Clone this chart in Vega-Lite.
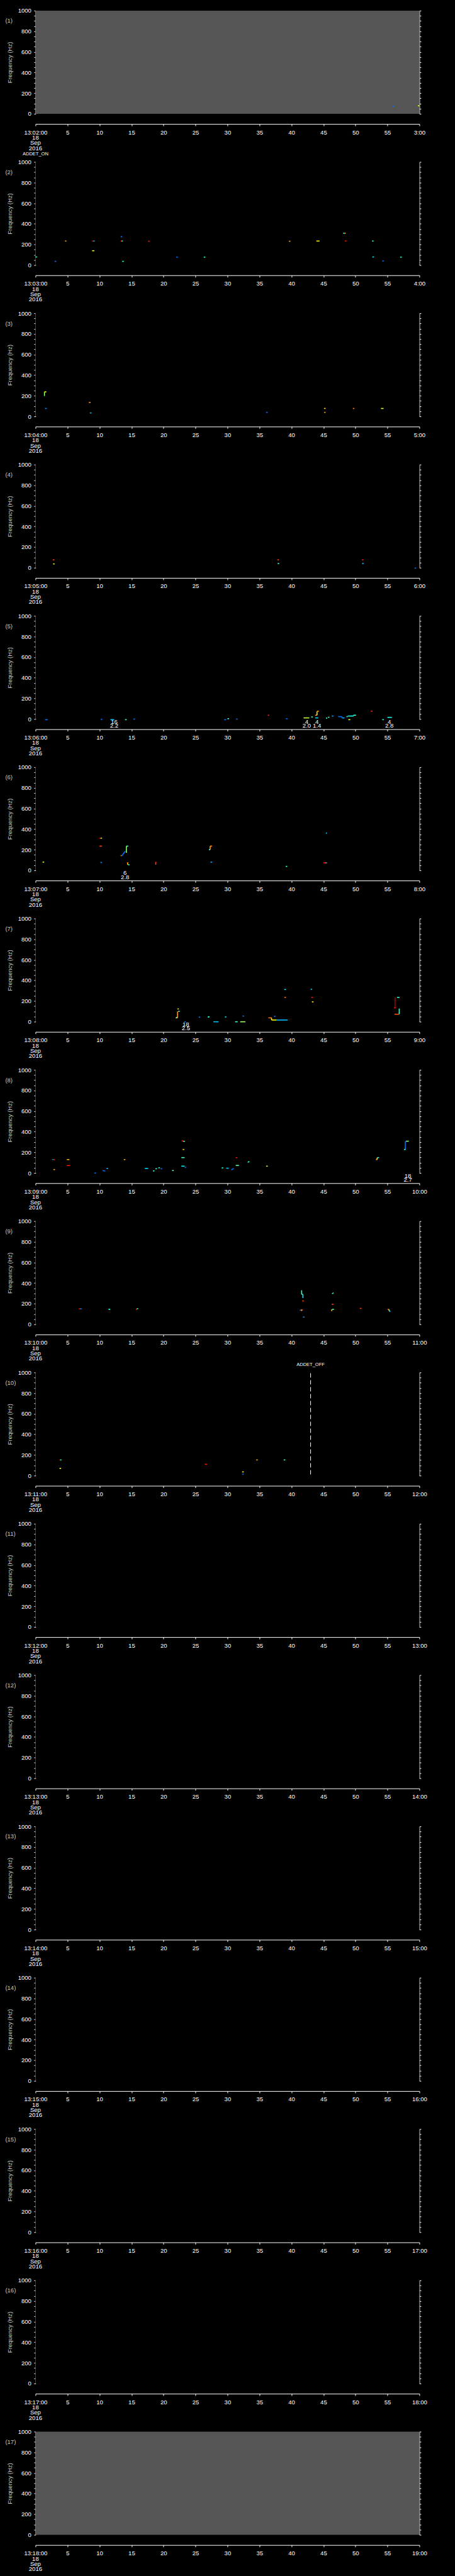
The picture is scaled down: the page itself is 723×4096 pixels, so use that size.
{
"$schema": "https://vega.github.io/schema/vega-lite/v6.json",
"background": "black",
"autosize": {"type": "none"},
"padding": {"left": 56.4, "top": 16.9, "right": 666.6, "bottom": 4079.1},
"bounds": "flush",
"spacing": 76.6,
"data": {"values": [
{"p":1,"k":"fr","t":120,"t2":180,"s":"(1)","st":"nodata"},
{"p":2,"k":"fr","t":180,"t2":240,"s":"(2)","st":"data"},
{"p":3,"k":"fr","t":240,"t2":300,"s":"(3)","st":"data"},
{"p":4,"k":"fr","t":300,"t2":360,"s":"(4)","st":"data"},
{"p":5,"k":"fr","t":360,"t2":420,"s":"(5)","st":"data"},
{"p":6,"k":"fr","t":420,"t2":480,"s":"(6)","st":"data"},
{"p":7,"k":"fr","t":480,"t2":540,"s":"(7)","st":"data"},
{"p":8,"k":"fr","t":540,"t2":600,"s":"(8)","st":"data"},
{"p":9,"k":"fr","t":600,"t2":660,"s":"(9)","st":"data"},
{"p":10,"k":"fr","t":660,"t2":720,"s":"(10)","st":"data"},
{"p":11,"k":"fr","t":720,"t2":780,"s":"(11)","st":"data"},
{"p":12,"k":"fr","t":780,"t2":840,"s":"(12)","st":"data"},
{"p":13,"k":"fr","t":840,"t2":900,"s":"(13)","st":"data"},
{"p":14,"k":"fr","t":900,"t2":960,"s":"(14)","st":"data"},
{"p":15,"k":"fr","t":960,"t2":1020,"s":"(15)","st":"data"},
{"p":16,"k":"fr","t":1020,"t2":1080,"s":"(16)","st":"data"},
{"p":17,"k":"fr","t":1080,"t2":1140,"s":"(17)","st":"nodata"},

{"p":1,"k":"s","t":175.8,"t2":176.05,"f":74,"f2":74,"v":0.22},
{"p":1,"k":"s","t":179.75,"t2":180,"f":78,"f2":78,"v":0.62},

{"p":2,"k":"s","t":180,"t2":180.25,"f":79,"f2":79,"v":0.4},
{"p":2,"k":"s","t":183,"t2":183.25,"f":36,"f2":36,"v":0.22},
{"p":2,"k":"s","t":184.6,"t2":184.85,"f":233,"f2":233,"v":0.72},
{"p":2,"k":"s","t":188.85,"t2":189.05,"f":233,"f2":233,"v":0.84},
{"p":2,"k":"s","t":189.05,"t2":189.25,"f":233,"f2":233,"v":0.3},
{"p":2,"k":"s","t":188.85,"t2":189.2,"f":139,"f2":139,"v":0.6},
{"p":2,"k":"s","t":193.3,"t2":193.55,"f":274,"f2":278,"v":0.22},
{"p":2,"k":"s","t":193.3,"t2":193.45,"f":233,"f2":233,"v":0.84},
{"p":2,"k":"s","t":193.45,"t2":193.65,"f":233,"f2":233,"v":0.4},
{"p":2,"k":"s","t":193.55,"t2":193.8,"f":36,"f2":36,"v":0.4},
{"p":2,"k":"s","t":197.6,"t2":197.85,"f":231,"f2":231,"v":0.84},
{"p":2,"k":"s","t":202,"t2":202.25,"f":77,"f2":77,"v":0.22},
{"p":2,"k":"s","t":206.3,"t2":206.55,"f":77,"f2":77,"v":0.4},
{"p":2,"k":"s","t":219.6,"t2":219.85,"f":231,"f2":231,"v":0.72},
{"p":2,"k":"s","t":223.9,"t2":224.4,"f":233,"f2":233,"v":0.62},
{"p":2,"k":"s","t":228.1,"t2":228.3,"f":309,"f2":309,"v":0.4},
{"p":2,"k":"s","t":228.3,"t2":228.5,"f":309,"f2":309,"v":0.72},
{"p":2,"k":"s","t":228.35,"t2":228.6,"f":233,"f2":233,"v":0.84},
{"p":2,"k":"s","t":232.6,"t2":232.85,"f":233,"f2":233,"v":0.4},
{"p":2,"k":"s","t":232.65,"t2":232.9,"f":79,"f2":79,"v":0.35},
{"p":2,"k":"s","t":234.2,"t2":234.45,"f":40,"f2":40,"v":0.22},
{"p":2,"k":"s","t":237,"t2":237.25,"f":77,"f2":77,"v":0.4},

{"p":3,"k":"s","t":241.4,"t2":241.4,"f":198,"f2":238,"v":0.5},
{"p":3,"k":"s","t":241.4,"t2":241.7,"f":238,"f2":238,"v":0.62},
{"p":3,"k":"s","t":241.5,"t2":241.75,"f":77,"f2":77,"v":0.25},
{"p":3,"k":"s","t":248.35,"t2":248.6,"f":135,"f2":135,"v":0.7},
{"p":3,"k":"s","t":248.5,"t2":248.75,"f":34,"f2":34,"v":0.3},
{"p":3,"k":"s","t":276.05,"t2":276.3,"f":39,"f2":39,"v":0.22},
{"p":3,"k":"s","t":285.1,"t2":285.35,"f":77,"f2":77,"v":0.65},
{"p":3,"k":"s","t":285.1,"t2":285.35,"f":39,"f2":39,"v":0.72},
{"p":3,"k":"s","t":289.6,"t2":289.85,"f":77,"f2":77,"v":0.75},
{"p":3,"k":"s","t":294,"t2":294.4,"f":77,"f2":77,"v":0.55},

{"p":4,"k":"s","t":302.7,"t2":302.95,"f":76,"f2":76,"v":0.8},
{"p":4,"k":"s","t":302.75,"t2":303,"f":37,"f2":37,"v":0.55},
{"p":4,"k":"s","t":337.8,"t2":338.05,"f":76,"f2":76,"v":0.8},
{"p":4,"k":"s","t":337.85,"t2":338.1,"f":41,"f2":41,"v":0.38},
{"p":4,"k":"s","t":351,"t2":351.25,"f":76,"f2":76,"v":0.85},
{"p":4,"k":"s","t":351.05,"t2":351.3,"f":41,"f2":41,"v":0.3},
{"p":4,"k":"s","t":359.25,"t2":359.5,"f":-4,"f2":-4,"v":0.22},

{"p":5,"k":"s","t":361.5,"t2":361.9,"f":-6,"f2":-6,"v":0.22},
{"p":5,"k":"s","t":370.2,"t2":370.45,"f":-3,"f2":-3,"v":0.22},
{"p":5,"k":"s","t":371.7,"t2":372.3,"f":-6,"f2":-6,"v":0.3},
{"p":5,"k":"s","t":374,"t2":374.25,"f":-6,"f2":-6,"v":0.42},
{"p":5,"k":"s","t":375.3,"t2":375.55,"f":-1,"f2":-1,"v":0.22},
{"p":5,"k":"s","t":389.5,"t2":389.8,"f":-6,"f2":-6,"v":0.22},
{"p":5,"k":"s","t":390,"t2":390.25,"f":3,"f2":3,"v":0.4},
{"p":5,"k":"s","t":391.35,"t2":391.6,"f":-1,"f2":-1,"v":0.22},
{"p":5,"k":"s","t":396.3,"t2":396.55,"f":37,"f2":37,"v":0.84},
{"p":5,"k":"s","t":399.15,"t2":399.4,"f":3,"f2":3,"v":0.22},
{"p":5,"k":"s","t":401.9,"t2":402.8,"f":11,"f2":11,"v":0.55},
{"p":5,"k":"s","t":403.1,"t2":403.35,"f":20,"f2":20,"v":0.45},
{"p":5,"k":"s","t":403.7,"t2":404,"f":37,"f2":37,"v":0.72},
{"p":5,"k":"s","t":404,"t2":404,"f":37,"f2":73,"v":0.62},
{"p":5,"k":"s","t":404,"t2":404.3,"f":76,"f2":76,"v":0.7},
{"p":5,"k":"s","t":403.7,"t2":404.2,"f":11,"f2":11,"v":0.32},
{"p":5,"k":"s","t":405.4,"t2":405.6,"f":9,"f2":9,"v":0.4},
{"p":5,"k":"s","t":405.7,"t2":405.95,"f":17,"f2":17,"v":0.4},
{"p":5,"k":"s","t":406.3,"t2":406.6,"f":29,"f2":29,"v":0.25},
{"p":5,"k":"s","t":407.3,"t2":407.9,"f":23,"f2":23,"v":0.22},
{"p":5,"k":"s","t":407.9,"t2":407.9,"f":11,"f2":23,"v":0.22},
{"p":5,"k":"s","t":407.9,"t2":408.3,"f":11,"f2":11,"v":0.28},
{"p":5,"k":"s","t":408.6,"t2":408.8,"f":23,"f2":23,"v":0.4},
{"p":5,"k":"s","t":408.8,"t2":409.7,"f":29,"f2":29,"v":0.38},
{"p":5,"k":"s","t":409.7,"t2":409.7,"f":29,"f2":37,"v":0.38},
{"p":5,"k":"s","t":409.7,"t2":410.1,"f":37,"f2":37,"v":0.4},
{"p":5,"k":"s","t":408.9,"t2":409.2,"f":-6,"f2":-6,"v":0.6},
{"p":5,"k":"s","t":412.4,"t2":412.7,"f":76,"f2":76,"v":0.84},
{"p":5,"k":"s","t":414.2,"t2":414.45,"f":-6,"f2":-6,"v":0.4},
{"p":5,"k":"s","t":415,"t2":415.7,"f":16,"f2":16,"v":0.38},

{"p":6,"k":"s","t":421.1,"t2":421.35,"f":80,"f2":80,"v":0.62},
{"p":6,"k":"s","t":430,"t2":430.2,"f":312,"f2":312,"v":0.84},
{"p":6,"k":"s","t":430.2,"t2":430.4,"f":312,"f2":312,"v":0.62},
{"p":6,"k":"s","t":430,"t2":430.4,"f":235,"f2":235,"v":0.8},
{"p":6,"k":"s","t":430.15,"t2":430.4,"f":76,"f2":76,"v":0.25},
{"p":6,"k":"s","t":433.3,"t2":433.5,"f":143,"f2":143,"v":0.72},
{"p":6,"k":"s","t":433.5,"t2":434,"f":140,"f2":185,"v":0.22},
{"p":6,"k":"s","t":434.2,"t2":434.2,"f":170,"f2":235,"v":0.5},
{"p":6,"k":"s","t":434.2,"t2":434.5,"f":235,"f2":235,"v":0.42},
{"p":6,"k":"s","t":434.4,"t2":434.4,"f":54,"f2":73,"v":0.68},
{"p":6,"k":"s","t":434.3,"t2":434.5,"f":73,"f2":73,"v":0.72},
{"p":6,"k":"s","t":434.45,"t2":434.7,"f":54,"f2":54,"v":0.4},
{"p":6,"k":"s","t":438.8,"t2":438.8,"f":54,"f2":78,"v":0.8},
{"p":6,"k":"s","t":438.7,"t2":438.9,"f":78,"f2":78,"v":0.84},
{"p":6,"k":"s","t":447.3,"t2":447.3,"f":200,"f2":235,"v":0.7},
{"p":6,"k":"s","t":447.3,"t2":447.6,"f":235,"f2":235,"v":0.72},
{"p":6,"k":"s","t":447.1,"t2":447.3,"f":200,"f2":200,"v":0.4},
{"p":6,"k":"s","t":447.35,"t2":447.6,"f":80,"f2":80,"v":0.28},
{"p":6,"k":"s","t":459.1,"t2":459.35,"f":38,"f2":38,"v":0.4},
{"p":6,"k":"s","t":465.4,"t2":465.55,"f":356,"f2":365,"v":0.3},
{"p":6,"k":"s","t":465,"t2":465.3,"f":73,"f2":73,"v":0.84},
{"p":6,"k":"s","t":465.3,"t2":465.45,"f":73,"f2":73,"v":0.72},
{"p":6,"k":"s","t":465.45,"t2":465.6,"f":73,"f2":73,"v":0.25},

{"p":7,"k":"s","t":501.9,"t2":502.2,"f":37,"f2":37,"v":0.68},
{"p":7,"k":"s","t":502.2,"t2":502.2,"f":37,"f2":99,"v":0.72},
{"p":7,"k":"s","t":502.2,"t2":502.4,"f":123,"f2":123,"v":0.62},
{"p":7,"k":"s","t":502.3,"t2":502.55,"f":100,"f2":100,"v":0.4},
{"p":7,"k":"s","t":502,"t2":502.2,"f":41,"f2":41,"v":0.42},
{"p":7,"k":"s","t":503.25,"t2":503.5,"f":-1,"f2":-1,"v":0.22},
{"p":7,"k":"s","t":505.5,"t2":505.75,"f":44,"f2":44,"v":0.22},
{"p":7,"k":"s","t":507,"t2":507,"f":40,"f2":47,"v":0.4},
{"p":7,"k":"s","t":506.95,"t2":507.2,"f":47,"f2":47,"v":0.4},
{"p":7,"k":"s","t":507.8,"t2":508.6,"f":-1,"f2":-1,"v":0.3},
{"p":7,"k":"s","t":509.6,"t2":509.85,"f":46,"f2":46,"v":0.32},
{"p":7,"k":"s","t":511.2,"t2":511.6,"f":-1,"f2":-1,"v":0.42},
{"p":7,"k":"s","t":512,"t2":512.8,"f":-1,"f2":-1,"v":0.52},
{"p":7,"k":"s","t":512.35,"t2":512.6,"f":54,"f2":54,"v":0.22},
{"p":7,"k":"s","t":516.4,"t2":516.9,"f":37,"f2":37,"v":0.75},
{"p":7,"k":"s","t":516.9,"t2":516.9,"f":16,"f2":37,"v":0.62},
{"p":7,"k":"s","t":516.9,"t2":517.7,"f":16,"f2":16,"v":0.6},
{"p":7,"k":"s","t":517.3,"t2":517.5,"f":47,"f2":55,"v":0.22},
{"p":7,"k":"s","t":517.7,"t2":519.4,"f":16,"f2":16,"v":0.3},
{"p":7,"k":"s","t":518.9,"t2":519.15,"f":312,"f2":312,"v":0.35},
{"p":7,"k":"s","t":518.9,"t2":519.15,"f":235,"f2":235,"v":0.75},
{"p":7,"k":"s","t":523,"t2":523.25,"f":314,"f2":314,"v":0.3},
{"p":7,"k":"s","t":523.1,"t2":523.35,"f":235,"f2":235,"v":0.84},
{"p":7,"k":"s","t":523.2,"t2":523.45,"f":192,"f2":192,"v":0.62},
{"p":7,"k":"s","t":536.2,"t2":536.2,"f":134,"f2":235,"v":0.95},
{"p":7,"k":"s","t":536.05,"t2":536.3,"f":134,"f2":134,"v":0.84},
{"p":7,"k":"s","t":536.5,"t2":536.9,"f":235,"f2":235,"v":0.4},
{"p":7,"k":"s","t":536.1,"t2":536.8,"f":72,"f2":72,"v":0.78},
{"p":7,"k":"s","t":536.85,"t2":536.85,"f":72,"f2":127,"v":0.42},

{"p":8,"k":"s","t":542.6,"t2":542.8,"f":130,"f2":130,"v":0.25},
{"p":8,"k":"s","t":542.8,"t2":543,"f":130,"f2":130,"v":0.84},
{"p":8,"k":"s","t":542.8,"t2":543.05,"f":33,"f2":33,"v":0.7},
{"p":8,"k":"s","t":544.9,"t2":545.3,"f":130,"f2":130,"v":0.68},
{"p":8,"k":"s","t":544.9,"t2":545.4,"f":72,"f2":72,"v":0.84},
{"p":8,"k":"s","t":549.2,"t2":549.45,"f":-1,"f2":-1,"v":0.22},
{"p":8,"k":"s","t":550.5,"t2":550.9,"f":24,"f2":19,"v":0.22},
{"p":8,"k":"s","t":551.1,"t2":551.35,"f":44,"f2":44,"v":0.3},
{"p":8,"k":"s","t":553.8,"t2":554.05,"f":130,"f2":130,"v":0.7},
{"p":8,"k":"s","t":557.1,"t2":557.6,"f":44,"f2":44,"v":0.32},
{"p":8,"k":"s","t":558.35,"t2":558.6,"f":20,"f2":20,"v":0.35},
{"p":8,"k":"s","t":558.75,"t2":559,"f":41,"f2":41,"v":0.4},
{"p":8,"k":"s","t":559.2,"t2":559.45,"f":50,"f2":50,"v":0.4},
{"p":8,"k":"s","t":559.55,"t2":559.8,"f":41,"f2":41,"v":0.22},
{"p":8,"k":"s","t":561.35,"t2":561.6,"f":24,"f2":24,"v":0.42},
{"p":8,"k":"s","t":562.85,"t2":563.1,"f":311,"f2":311,"v":0.84},
{"p":8,"k":"s","t":563.1,"t2":563.35,"f":307,"f2":307,"v":0.45},
{"p":8,"k":"s","t":563,"t2":563.25,"f":228,"f2":228,"v":0.66},
{"p":8,"k":"s","t":562.8,"t2":563.3,"f":149,"f2":149,"v":0.42},
{"p":8,"k":"s","t":562.8,"t2":563.3,"f":66,"f2":66,"v":0.35},
{"p":8,"k":"s","t":563.3,"t2":563.55,"f":54,"f2":54,"v":0.22},
{"p":8,"k":"s","t":569.1,"t2":569.35,"f":49,"f2":49,"v":0.4},
{"p":8,"k":"s","t":569.8,"t2":570.2,"f":46,"f2":46,"v":0.3},
{"p":8,"k":"s","t":570.6,"t2":571,"f":30,"f2":44,"v":0.22},
{"p":8,"k":"s","t":571.3,"t2":571.55,"f":149,"f2":149,"v":0.84},
{"p":8,"k":"s","t":571.3,"t2":571.8,"f":73,"f2":73,"v":0.45},
{"p":8,"k":"s","t":573.2,"t2":573.2,"f":100,"f2":108,"v":0.25},
{"p":8,"k":"s","t":573.2,"t2":573.45,"f":108,"f2":108,"v":0.4},
{"p":8,"k":"s","t":576.05,"t2":576.3,"f":66,"f2":66,"v":0.55},
{"p":8,"k":"s","t":593.4,"t2":593.4,"f":130,"f2":149,"v":0.62},
{"p":8,"k":"s","t":593.2,"t2":593.45,"f":130,"f2":130,"v":0.72},
{"p":8,"k":"s","t":593.45,"t2":593.7,"f":149,"f2":149,"v":0.4},
{"p":8,"k":"s","t":597.8,"t2":597.8,"f":228,"f2":308,"v":0.22},
{"p":8,"k":"s","t":597.6,"t2":597.85,"f":228,"f2":228,"v":0.42},
{"p":8,"k":"s","t":597.9,"t2":598.35,"f":308,"f2":308,"v":0.5},

{"p":9,"k":"s","t":606.8,"t2":607,"f":150,"f2":150,"v":0.84},
{"p":9,"k":"s","t":607,"t2":607.2,"f":150,"f2":150,"v":0.25},
{"p":9,"k":"s","t":611.4,"t2":611.65,"f":146,"f2":146,"v":0.4},
{"p":9,"k":"s","t":611.6,"t2":611.6,"f":140,"f2":146,"v":0.4},
{"p":9,"k":"s","t":615.8,"t2":615.8,"f":140,"f2":150,"v":0.84},
{"p":9,"k":"s","t":615.85,"t2":616.05,"f":152,"f2":152,"v":0.42},
{"p":9,"k":"s","t":641.6,"t2":641.6,"f":290,"f2":330,"v":0.4},
{"p":9,"k":"s","t":641.8,"t2":641.8,"f":255,"f2":290,"v":0.35},
{"p":9,"k":"s","t":641.6,"t2":641.8,"f":290,"f2":290,"v":0.4},
{"p":9,"k":"s","t":641.7,"t2":641.95,"f":227,"f2":227,"v":0.8},
{"p":9,"k":"s","t":641.3,"t2":641.5,"f":137,"f2":137,"v":0.22},
{"p":9,"k":"s","t":641.5,"t2":641.75,"f":140,"f2":140,"v":0.75},
{"p":9,"k":"s","t":641.6,"t2":641.6,"f":128,"f2":140,"v":0.72},
{"p":9,"k":"s","t":641.8,"t2":642.05,"f":70,"f2":70,"v":0.25},
{"p":9,"k":"s","t":646.35,"t2":646.6,"f":296,"f2":305,"v":0.42},
{"p":9,"k":"s","t":646.3,"t2":646.6,"f":194,"f2":194,"v":0.8},
{"p":9,"k":"s","t":646.3,"t2":646.3,"f":128,"f2":145,"v":0.68},
{"p":9,"k":"s","t":646.35,"t2":646.65,"f":145,"f2":145,"v":0.45},
{"p":9,"k":"s","t":650.7,"t2":650.95,"f":154,"f2":154,"v":0.8},
{"p":9,"k":"s","t":655,"t2":655.2,"f":145,"f2":145,"v":0.8},
{"p":9,"k":"s","t":655.2,"t2":655.35,"f":145,"f2":125,"v":0.5},
{"p":9,"k":"s","t":655.3,"t2":655.5,"f":125,"f2":125,"v":0.25},

{"p":10,"k":"s","t":663.75,"t2":663.9,"f":152,"f2":152,"v":0.84},
{"p":10,"k":"s","t":663.9,"t2":664.05,"f":152,"f2":152,"v":0.4},
{"p":10,"k":"s","t":663.75,"t2":664,"f":70,"f2":70,"v":0.62},
{"p":10,"k":"s","t":686.45,"t2":686.8,"f":110,"f2":110,"v":0.84},
{"p":10,"k":"s","t":692.3,"t2":692.55,"f":36,"f2":36,"v":0.62},
{"p":10,"k":"s","t":692.3,"t2":692.55,"f":14,"f2":14,"v":0.22},
{"p":10,"k":"s","t":694.5,"t2":694.75,"f":152,"f2":152,"v":0.7},
{"p":10,"k":"s","t":698.8,"t2":699.05,"f":152,"f2":152,"v":0.4},

{"p":10,"k":"er","t":703,"f":11,"f2":1000},
{"p":10,"k":"et","t":703,"f":1073,"s":"ADDET_OFF"},
{"p":1,"k":"et","t":120,"f":-392,"s":"ADDET_ON"},

{"p":5,"k":"lb","t":372.3,"f":-28,"s":"16"},
{"p":5,"k":"lb","t":372.3,"f":-67,"s":"2.2"},
{"p":5,"k":"lb","t":402.4,"f":-28,"s":"4"},
{"p":5,"k":"lb","t":402.4,"f":-67,"s":"2.0"},
{"p":5,"k":"lb","t":404,"f":-28,"s":"4"},
{"p":5,"k":"lb","t":404,"f":-67,"s":"1.4"},
{"p":5,"k":"lb","t":415.3,"f":-28,"s":"4"},
{"p":5,"k":"lb","t":415.3,"f":-67,"s":"2.8"},
{"p":6,"k":"lb","t":434,"f":-26,"s":"6"},
{"p":6,"k":"lb","t":434,"f":-65,"s":"2.8"},
{"p":7,"k":"lb","t":503.5,"f":-28,"s":"18"},
{"p":7,"k":"lb","t":503.5,"f":-67,"s":"2.5"},
{"p":8,"k":"lb","t":598.2,"f":-30,"s":"18"},
{"p":8,"k":"lb","t":598.2,"f":-69,"s":"2.7"}
]},
"facet": {"row": {"field": "p", "type": "ordinal", "header": null}},
"spec": {
  "width": 610,
  "height": 164,
  "layer": [
    {
      "transform": [{"filter": "datum.k == 'fr'"}],
      "mark": {"type": "rect"},
      "encoding": {
        "x": {"field": "t", "type": "quantitative", "scale": {"nice": false, "zero": false},
          "axis": {"orient": "bottom", "offset": 16.2, "tickCount": 12, "tickSize": 3, "labelPadding": 5, "labelBaseline": "top", "labelAlign": "center", "title": null, "domain": true, "ticks": true, "labels": true,
            "labelExpr": "datum.index == 0 ? ((datum.value < 600 ? '13:0' : '13:') + round(datum.value / 60) + ':00') : (datum.index == 1 ? (round(datum.value / 60) + ':00') : ('' + round(datum.value % 60)))"}},
        "x2": {"field": "t2"},
        "y": {"datum": 0, "type": "quantitative",
          "axis": {"orient": "right", "values": [0,50,100,150,200,250,300,350,400,450,500,550,600,650,700,750,800,850,900,950,1000], "labels": false, "title": null, "tickSize": 2.5}},
        "y2": {"datum": 1000},
        "fill": {"field": "st", "type": "nominal", "scale": {"domain": ["nodata", "data"], "range": ["#555555", "#000000"]}, "legend": null}
      }
    },
    {
      "transform": [{"filter": "datum.k == 's'"}],
      "mark": {"type": "rule", "strokeWidth": 1.6, "strokeCap": "butt"},
      "encoding": {
        "x": {"field": "t", "type": "quantitative"},
        "x2": {"field": "t2"},
        "y": {"field": "f", "type": "quantitative", "scale": {"domain": [0, 1000], "nice": false, "zero": false},
          "axis": {"orient": "left", "values": [0,50,100,150,200,250,300,350,400,450,500,550,600,650,700,750,800,850,900,950,1000], "format": "d",
            "labelExpr": "datum.value % 200 == 0 ? datum.label : ''", "tickSize": 2.5, "labelPadding": 4.5,
            "title": "Frequency (Hz)", "titleColor": "#c8c8c8", "titleFontSize": 9.5, "titleFontWeight": "normal", "titleAngle": 270, "titleX": -36, "titleY": 82, "titleBaseline": "bottom", "titleAlign": "center"}},
        "y2": {"field": "f2"},
        "color": {"field": "v", "type": "quantitative", "scale": {"domain": [0, 0.11, 0.36, 0.61, 0.86, 1], "range": ["#000080", "#0000ff", "#00ffff", "#ffff00", "#ff0000", "#800000"], "interpolate": "rgb"}, "legend": null}
      }
    },
    {
      "transform": [{"filter": "datum.k == 'er'"}],
      "mark": {"type": "rule", "color": "#ffffff", "strokeWidth": 1, "strokeDash": [7, 4]},
      "encoding": {
        "x": {"field": "t", "type": "quantitative"},
        "y": {"field": "f", "type": "quantitative", "axis": null},
        "y2": {"field": "f2"}
      }
    },
    {
      "transform": [{"filter": "datum.k == 'et'"}],
      "mark": {"type": "text", "color": "#ffffff", "fontSize": 7.5, "align": "center", "baseline": "middle"},
      "encoding": {
        "x": {"field": "t", "type": "quantitative"},
        "y": {"field": "f", "type": "quantitative", "axis": null},
        "text": {"field": "s", "type": "nominal"}
      }
    },
    {
      "transform": [{"filter": "datum.k == 'lb'"}],
      "mark": {"type": "text", "color": "#ffffff", "fontSize": 9.5, "align": "center", "baseline": "middle"},
      "encoding": {
        "x": {"field": "t", "type": "quantitative"},
        "y": {"field": "f", "type": "quantitative", "axis": null},
        "text": {"field": "s", "type": "nominal"}
      }
    },
    {
      "transform": [{"filter": "datum.k == 'fr'"}],
      "mark": {"type": "text", "color": "#c8c8c8", "fontSize": 9.5, "align": "left", "baseline": "middle", "dx": -48},
      "encoding": {
        "x": {"field": "t", "type": "quantitative"},
        "y": {"datum": 900, "type": "quantitative", "axis": null},
        "text": {"field": "s", "type": "nominal"}
      }
    },
    {
      "transform": [{"filter": "datum.k == 'fr'"}],
      "mark": {"type": "text", "color": "#ffffff", "fontSize": 9.5, "align": "center", "baseline": "middle"},
      "encoding": {
        "x": {"field": "t", "type": "quantitative"},
        "y": {"datum": -232, "type": "quantitative", "axis": null},
        "text": {"value": "18"}
      }
    },
    {
      "transform": [{"filter": "datum.k == 'fr'"}],
      "mark": {"type": "text", "color": "#ffffff", "fontSize": 9.5, "align": "center", "baseline": "middle"},
      "encoding": {
        "x": {"field": "t", "type": "quantitative"},
        "y": {"datum": -284, "type": "quantitative", "axis": null},
        "text": {"value": "Sep"}
      }
    },
    {
      "transform": [{"filter": "datum.k == 'fr'"}],
      "mark": {"type": "text", "color": "#ffffff", "fontSize": 9.5, "align": "center", "baseline": "middle"},
      "encoding": {
        "x": {"field": "t", "type": "quantitative"},
        "y": {"datum": -333, "type": "quantitative", "axis": null},
        "text": {"value": "2016"}
      }
    }
  ],
  "resolve": {"axis": {"y": "independent"}}
},
"resolve": {"scale": {"x": "independent"}},
"config": {
  "view": {"stroke": null},
  "font": "Liberation Sans",
  "axis": {"grid": false, "domainColor": "#ffffff", "tickColor": "#ffffff", "labelColor": "#ffffff", "labelFontSize": 9.5, "labelFont": "Liberation Sans", "labelFlush": false, "labelOverlap": false, "labelBound": false, "domainWidth": 1, "tickWidth": 1}
}
}
